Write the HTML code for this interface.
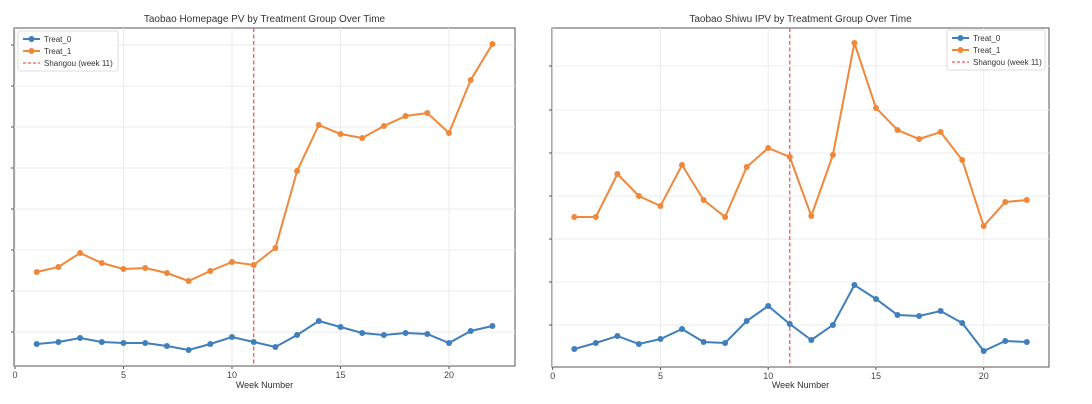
<!DOCTYPE html>
<html><head><meta charset="utf-8"><style>
html,body{margin:0;padding:0;background:#fff;}
svg{display:block;font-family:"Liberation Sans","DejaVu Sans",sans-serif;}
</style></head><body>
<svg id="s" width="1092" height="404" viewBox="0 0 1092 404" xmlns="http://www.w3.org/2000/svg"></svg>
<script>
const s=document.getElementById('s');let h='';
function chart(o){
 const {x0,x1,y0,y1,t0,pw,grid,or,bl,title,leg}=o;
 h+=`<rect x="${x0}" y="${y0}" width="${x1-x0}" height="${y1-y0}" fill="#fff" stroke="#555" stroke-width="1"/>`;
 grid.forEach(y=>{h+=`<line x1="${x0}" x2="${x1}" y1="${y}" y2="${y}" stroke="#ebebeb"/><line x1="${x0-3}" x2="${x0}" y1="${y}" y2="${y}" stroke="#555"/>`;});
 [0,5,10,15,20].forEach(w=>{const x=t0+w*pw;h+=`<line x1="${x}" x2="${x}" y1="${y0}" y2="${y1}" stroke="#ebebeb"/><line x1="${x}" x2="${x}" y1="${y1}" y2="${y1+3}" stroke="#555"/><text x="${x}" y="${y1+12}" font-size="9" fill="#444" text-anchor="middle">${w}</text>`;});
 const vx=t0+11*pw;
 h+=`<line x1="${vx}" x2="${vx}" y1="${y0}" y2="${y1}" stroke="#ee5a5e" stroke-width="1.3" stroke-dasharray="4,2.5"/>`;
 [[bl,'#3f7fbb'],[or,'#f0883a']].forEach(([d,c])=>{
  const pts=d.map((y,i)=>`${(t0+(i+1)*pw).toFixed(1)},${y}`).join(' ');
  h+=`<polyline points="${pts}" fill="none" stroke="${c}" stroke-width="2"/>`;
  d.forEach((y,i)=>{h+=`<circle cx="${(t0+(i+1)*pw).toFixed(1)}" cy="${y}" r="3" fill="${c}"/>`;});
 });
 h+=`<text x="${(x0+x1)/2}" y="22" font-size="10" fill="#333" text-anchor="middle">${title}</text>`;
 h+=`<text x="${(x0+x1)/2}" y="388" font-size="9" fill="#333" text-anchor="middle">Week Number</text>`;
 const [lx,ly,lw]=leg;
 h+=`<rect x="${lx}" y="${ly}" width="${lw}" height="40" fill="#fff" stroke="#ddd" rx="2"/>`;
 h+=`<line x1="${lx+5}" x2="${lx+22}" y1="${ly+8}" y2="${ly+8}" stroke="#3f7fbb" stroke-width="2"/><circle cx="${lx+13.5}" cy="${ly+8}" r="3" fill="#3f7fbb"/><text x="${lx+26}" y="${ly+11}" font-size="8" fill="#333">Treat_0</text>`;
 h+=`<line x1="${lx+5}" x2="${lx+22}" y1="${ly+20}" y2="${ly+20}" stroke="#f0883a" stroke-width="2"/><circle cx="${lx+13.5}" cy="${ly+20}" r="3" fill="#f0883a"/><text x="${lx+26}" y="${ly+23}" font-size="8" fill="#333">Treat_1</text>`;
 h+=`<line x1="${lx+5}" x2="${lx+22}" y1="${ly+32}" y2="${ly+32}" stroke="#ee5a5e" stroke-width="1.2" stroke-dasharray="3,2"/><text x="${lx+26}" y="${ly+35}" font-size="8" fill="#333">Shangou (week 11)</text>`;
}
chart({x0:14,x1:515,y0:28,y1:366,t0:15,pw:21.7,grid:[45,86,127,168,209,250,291,332],
 or:[272,267,253,263,269,268,273,281,271,262,265,248,171,125,134,138,126,116,113,133,80,44],
 bl:[344,342,338,342,343,343,346,350,344,337,342,347,335,321,327,333,335,333,334,343,331,326],
 title:"Taobao Homepage PV by Treatment Group Over Time",leg:[18,31,100]});
chart({x0:552,x1:1049,y0:28,y1:367,t0:552.7,pw:21.55,grid:[66,110,153,196,239,282,325],
 or:[217,217,174,196,206,165,200,217,167,148,157,216,155,43,108,130,139,132,160,226,202,200],
 bl:[349,343,336,344,339,329,342,343,321,306,324,340,325,285,299,315,316,311,323,351,341,342],
 title:"Taobao Shiwu IPV by Treatment Group Over Time",leg:[947,30,98]});
s.innerHTML=h;
</script>
</body></html>
